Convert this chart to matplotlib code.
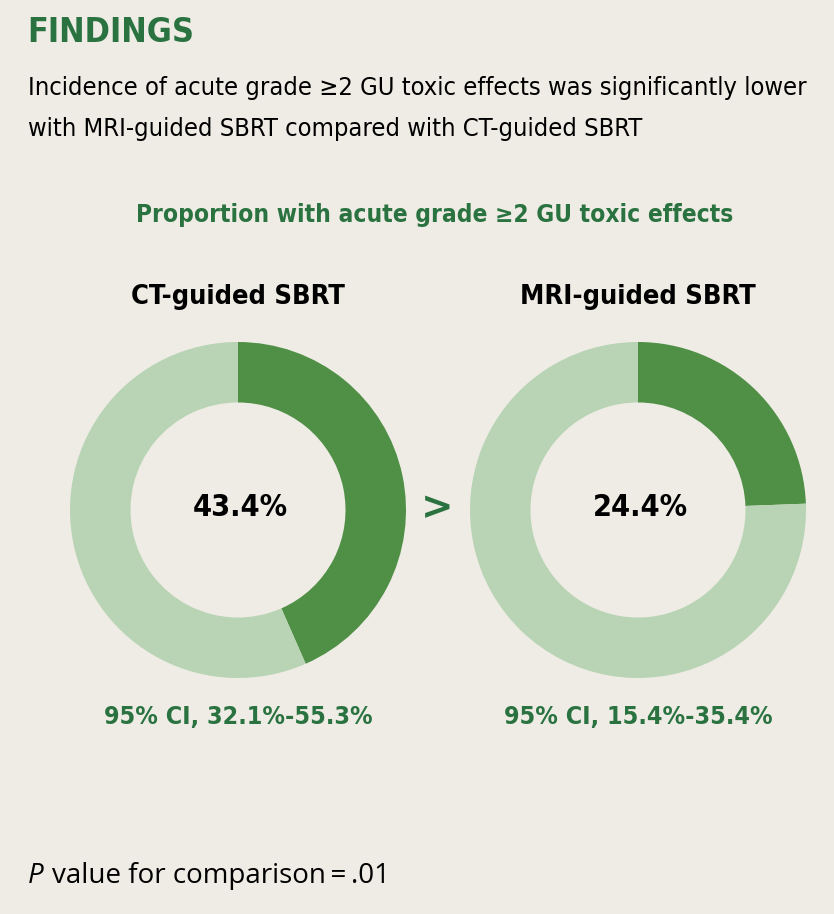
import matplotlib.pyplot as plt

W, H = 834, 914
bg = '#eeece4'
dark = '#4f8f46'
light = '#b8d4b4'
green_txt = '#2a7341'

groups = ['CT-guided SBRT', 'MRI-guided SBRT']
pct = [43.4, 24.4]
ci_lo = [32.1, 15.4]
ci_hi = [55.3, 35.4]
centers_x = [238, 638]

fig = plt.figure(figsize=(W / 100, H / 100), dpi=100)
fig.patch.set_facecolor(bg)

fam = 'DejaVu Sans'
cond = dict(family=fam, stretch='condensed')
body = 'Open Sans'

def fx(x):
    return x / W

def fy(y):
    return 1 - y / H

fig.text(fx(27), fy(32), 'FINDINGS', fontsize=24.5, fontweight='bold', **cond,
         color=green_txt, va='center', ha='left')
fig.text(fx(28), fy(88), 'Incidence of acute grade \u22652 GU toxic effects was significantly lower',
         fontsize=18.3, **cond, color='black', va='center', ha='left')
fig.text(fx(28), fy(129), 'with MRI-guided SBRT compared with CT-guided SBRT',
         fontsize=18.3, **cond, color='black', va='center', ha='left')
fig.text(fx(435), fy(215), 'Proportion with acute grade \u22652 GU toxic effects',
         fontsize=17.6, fontweight='bold', **cond, color=green_txt, va='center', ha='center')

r_out = 168
for i, (g, p) in enumerate(zip(groups, pct)):
    cx = centers_x[i]
    ax = fig.add_axes([fx(cx - r_out), fy(510 + r_out), 2 * r_out / W, 2 * r_out / H])
    ax.pie([p, 100 - p], colors=[dark, light], startangle=90, counterclock=False,
           radius=1, wedgeprops=dict(width=0.36, edgecolor='none'))
    ax.set_xlim(-1, 1)
    ax.set_ylim(-1, 1)
    ax.set_aspect('auto')
    ax.axis('off')
    fig.text(fx(cx), fy(297), g, fontsize=19.5, fontweight='bold', **cond,
             color='black', va='center', ha='center')
    fig.text(fx(cx + 2), fy(508), f'{p:.1f}%', fontsize=22, fontweight='bold', **cond,
             color='black', va='center', ha='center')
    fig.text(fx(cx), fy(717), f'95% CI, {ci_lo[i]:.1f}%-{ci_hi[i]:.1f}%', fontsize=18,
             fontweight='bold', **cond, color=green_txt, va='center', ha='center')

fig.text(fx(437), fy(508), '>', fontsize=28, fontweight='heavy', family=fam,
         color=green_txt, va='center', ha='center')

fig.text(fx(28), fy(876), 'P', fontsize=20, style='italic', family=body,
         color='black', va='center', ha='left')
fig.text(fx(52), fy(876), 'value for comparison\u2009=\u2009.01', fontsize=20, family=body,
         color='black', va='center', ha='left')

fig.savefig('out.png', dpi=100, facecolor=bg)
